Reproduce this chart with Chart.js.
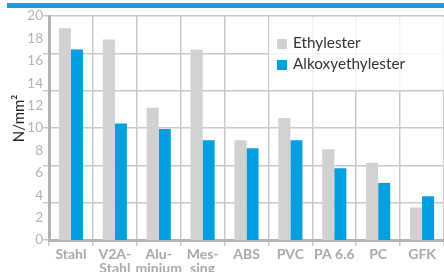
<!DOCTYPE html>
<html>
<head>
<meta charset="utf-8">
<script src="https://cdn.jsdelivr.net/npm/chart.js@4/dist/chart.umd.min.js"></script>
<style>
    html, body { margin: 0; padding: 0; background: #fff; }
    #wrap { position: relative; width: 444px; height: 272px; overflow: hidden; }
    #band { position: absolute; left: 7px; right: 0; top: 3px; height: 5px; background: #0ba3d9; }
    #legend {
        position: absolute; left: 269px; top: 17px; width: 175px; height: 73px;
        background: rgba(255, 255, 255, 0.82);
        font-family: Lato, sans-serif; font-size: 15.3px; color: #333;
    }
    .item { position: absolute; left: 8px; height: 12px; line-height: 12px; white-space: nowrap; }
    .item span.box { display: inline-block; width: 10px; height: 10px; margin-right: 6px; vertical-align: -1px; }
</style>
</head>
<body>
<div id="wrap">
    <div id="band"></div>
    <canvas id="chart" width="444" height="272"></canvas>
    <div id="legend"></div>
</div>
<script>
const categories = ['Stahl', ['V2A-', 'Stahl'], ['Alu-', 'minium'], ['Mes-', 'sing'], 'ABS', 'PVC', 'PA 6.6', 'PC', 'GFK'];
const ethylester = [18.9, 17.9, 11.8, 17.0, 8.9, 10.9, 8.1, 6.9, 2.9];
const alkoxyethylester = [17.0, 10.4, 9.9, 8.9, 8.2, 8.9, 6.4, 5.1, 3.9];
const gridValues = [0, 10 / 3, 20 / 3, 10, 40 / 3, 50 / 3, 20];

const gray = '#d0d1d0';
const blue = '#009fe0';
const gridColor = '#c9c9c9';
const axisColor = '#b3b3b3';

const chart = new Chart(document.getElementById('chart'), {
    type: 'bar',
    data: {
        labels: categories,
        datasets: [{
            label: 'Ethylester',
            data: ethylester,
            backgroundColor: gray,
            yAxisID: 'y'
        }, {
            label: 'Alkoxyethylester',
            data: alkoxyethylester,
            backgroundColor: blue,
            yAxisID: 'y'
        }]
    },
    options: {
        responsive: false,
        animation: false,
        barPercentage: 1,
        categoryPercentage: 0.55,
        layout: { padding: { top: 16, right: 0, left: 0, bottom: 0 } },
        plugins: {
            legend: { display: false },
            tooltip: { enabled: false }
        },
        scales: {
            x: {
                grid: { color: gridColor, lineWidth: 1.5, tickLength: 6 },
                border: { color: axisColor, width: 3 },
                ticks: {
                    color: '#a9a9a9',
                    padding: 2,
                    maxRotation: 0,
                    autoSkip: false,
                    font: { family: 'Lato', size: 14, weight: 'bold', lineHeight: 0.98 }
                },
                afterFit: s => { s.height = 32; }
            },
            y: {
                position: 'left',
                weight: 1,
                min: 0,
                max: 20,
                grid: { display: false, drawTicks: false },
                border: { display: false },
                ticks: {
                    stepSize: 2,
                    padding: 0,
                    color: '#b3b3b3',
                    font: { family: 'Lato', size: 13.5 }
                },
                title: {
                    display: true,
                    text: '     N/mm²',
                    color: '#222',
                    padding: { top: 10, bottom: 0 },
                    font: { family: 'Lato', size: 15 }
                },
                afterFit: s => { s.width = 43; }
            },
            yGrid: {
                position: 'left',
                weight: 0,
                min: 0,
                max: 20,
                afterBuildTicks: s => { s.ticks = gridValues.map(v => ({ value: v })); },
                grid: { color: gridColor, lineWidth: 1.5, tickLength: 6 },
                border: { color: axisColor, width: 3 },
                ticks: { display: false },
                afterFit: s => { s.width = 6; }
            }
        }
    }
});

const legend = document.getElementById('legend');
chart.data.datasets.forEach((ds, i) => {
    const div = document.createElement('div');
    div.className = 'item';
    div.style.top = (19 + i * 21) + 'px';
    div.innerHTML = '<span class="box" style="background:' + ds.backgroundColor + '"></span>' + ds.label;
    legend.appendChild(div);
});
</script>
</body>
</html>
